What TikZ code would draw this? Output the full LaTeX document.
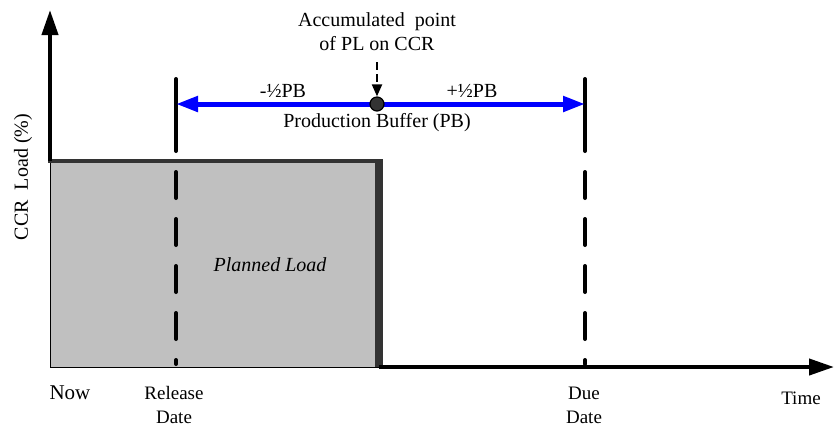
\documentclass[tikz,border=0pt]{standalone}
\usepackage{fontspec}
\setmainfont{Liberation Serif}
\usetikzlibrary{arrows.meta}
\definecolor{loadgray}{HTML}{C0C0C0}
\definecolor{edgegray}{HTML}{333333}
\definecolor{bufblue}{HTML}{0000FF}

\begin{document}
\begin{tikzpicture}[x=0.5pt,y=-0.5pt,
  axis/.style={line width=2pt,-{Triangle[length=12.5pt,width=8pt]}},
  dateline/.style={line width=2pt,line cap=round},
  datedash/.style={dateline,dash pattern=on 13pt off 10.5pt},
  buffer/.style={bufblue,line width=2.5pt,{Triangle[length=11pt,width=7.5pt]}-{Triangle[length=11pt,width=7.5pt]}},
  label/.style={font=\fontsize{10}{12}\selectfont,align=center}]
\tikzstyle{every node}+=[inner sep=0pt]
\useasboundingbox (0,0) rectangle (834,425);
\coordinate (boxtl) at (50,161);
\coordinate (boxtr) at (379,161);
\coordinate (boxbr) at (379,367);
\coordinate (ytop) at (50,10);
\coordinate (xend) at (834,367);
\coordinate (reltop) at (176,79);
\coordinate (relmid) at (176,151);
\coordinate (reldash) at (176,172);
\coordinate (relbot) at (176,364);
\coordinate (duetop) at (585,79);
\coordinate (duemid) at (585,151);
\coordinate (duedash) at (585,172);
\coordinate (duebot) at (585,364);
\coordinate (accstart) at (377,62);
\filldraw [fill=loadgray,draw=black,line width=0.5pt] (boxtl) rectangle (boxbr);
\draw [edgegray,line width=2pt] (48,161) -- (boxtr);
\draw [edgegray,line width=4pt] (379,159) -- (boxbr);
\draw [axis] (boxtl) -- (ytop);
\draw [axis] (boxbr) -- (xend);
\draw [dateline] (reltop) -- (relmid);
\draw [datedash] (reldash) -- (relbot);
\draw [dateline] (duetop) -- (duemid);
\draw [datedash] (duedash) -- (duebot);
\draw [buffer] (176,104) -- (585,104);
\node [circle,fill=edgegray,draw=black,line width=0.6pt,minimum size=7pt] (point) at (377,104) {};
\draw [line width=1pt,dash pattern=on 4pt off 2pt,-{Triangle[length=6pt,width=5pt]}] (accstart) -- (point.north);
\node [label] (accum) at (377,32) {Accumulated\ \ point\\of PL on CCR};
\node [label] (minus) at (283,91) {-½PB};
\node [label] (plus) at (472,91) {+½PB};
\node [label] (pbuf) at (377,123) {Production Buffer (PB)};
\node [label,font=\fontsize{10}{12}\selectfont\itshape] (planned) at (270,265) {Planned Load};
\node [label,rotate=90] (yname) at (23,177) {CCR\ \ Load (\%)};
\node [label,font=\fontsize{10.5}{12}\selectfont] (now) at (70,393) {Now};
\node [label,font=\fontsize{9.5}{12}\selectfont] (release) at (174,405) {Release\\Date};
\node [label,font=\fontsize{9.5}{12}\selectfont] (due) at (584,405) {Due\\Date};
\node [label,font=\fontsize{9.5}{12}\selectfont] (time) at (801,398) {Time};
\end{tikzpicture}
\end{document}
